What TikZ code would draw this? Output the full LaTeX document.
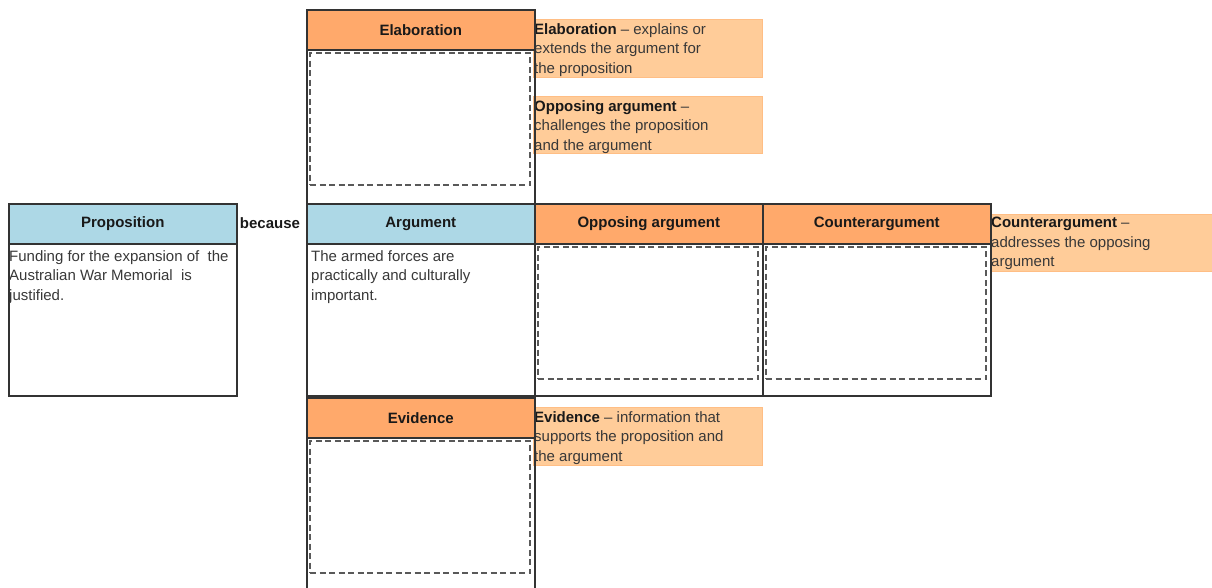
\documentclass[tikz,border=0pt]{standalone}
\usepackage{fontspec}
\setmainfont{Liberation Sans}
\usepackage{xcolor}
\definecolor{headblue}{HTML}{ADD8E6}
\definecolor{headorange}{HTML}{FFA96B}
\definecolor{notefill}{HTML}{FFCC99}
\definecolor{notedraw}{HTML}{FFBE85}

\begin{document}
\begin{tikzpicture}[x=1pt,y=-1pt]
		\tikzset{head/.style = {shape=rectangle, draw=black!80, line width=1.6pt, anchor=north west, minimum width=228pt, minimum height=40pt, inner sep=0pt, text=black!90, font=\fontsize{15}{20}\selectfont\bfseries}}
		\tikzset{cell/.style = {shape=rectangle, draw=black!80, line width=1.6pt, anchor=north west, minimum width=228pt, minimum height=152pt, inner sep=0pt}}
		\tikzset{slot/.style = {shape=rectangle, draw=black!65, line width=2pt, dash pattern=on 6pt off 3.5pt, anchor=north west, minimum width=220pt, minimum height=132pt, inner sep=0pt}}
		\tikzset{note/.style = {shape=rectangle, fill=notefill, draw=notedraw, anchor=north west, minimum width=229pt, minimum height=58pt, inner sep=0pt}}
		\tikzset{words/.style = {anchor=north west, inner sep=0pt, align=left, text=black!78, font=\fontsize{15}{19.5}\selectfont}}

		\clip (0,0) rectangle (1212,587);

		% side notes
		\node[note] (N_elab) at (533,19) {};
		\node[note, minimum height=57pt] (N_opp) at (533,96) {};
		\node[note, minimum width=224pt, minimum height=57pt] (N_count) at (990,214) {};
		\node[note] (N_evid) at (533,407) {};

		\node[words] (T_elab) at ([shift={(1,4)}]N_elab.north west) {\textbf{\color{black!90}Elaboration} -- explains or\\extends the argument for\\the proposition};
		\node[words] (T_opp) at ([shift={(1,4)}]N_opp.north west) {\textbf{\color{black!90}Opposing argument} --\\challenges the proposition\\and the argument};
		\node[words] (T_count) at ([shift={(1,3)}]N_count.north west) {\textbf{\color{black!90}Counterargument} --\\addresses the opposing\\argument};
		\node[words] (T_evid) at ([shift={(1,4)}]N_evid.north west) {\textbf{\color{black!90}Evidence} -- information that\\supports the proposition and\\the argument};

		% boxes
		\node[head, fill=headblue] (H_prop) at (8,203) {Proposition};
		\node[cell] (B_prop) at (8,243) {};
		\node[head, fill=headorange] (H_elab) at (306,9) {Elaboration};
		\node[cell, minimum height=154pt] (B_elab) at (306,49) {};
		\node[head, fill=headblue] (H_arg) at (306,203) {Argument};
		\node[cell] (B_arg) at (306,243) {};
		\node[head, fill=headorange] (H_opp) at (534,203) {Opposing argument};
		\node[cell] (B_opp) at (534,243) {};
		\node[head, fill=headorange] (H_count) at (762,203) {Counterargument};
		\node[cell] (B_count) at (762,243) {};
		\node[head, fill=headorange] (H_evid) at (306,397) {Evidence};
		\node[cell, minimum height=160pt] (B_evid) at (306,437) {};

		\node[font=\fontsize{15}{20}\selectfont\bfseries, text=black!90] (because) at (270,223) {because};

		\node[slot] (S_elab) at ([shift={(3,3)}]B_elab.north west) {};
		\node[slot] (S_opp) at ([shift={(3,3)}]B_opp.north west) {};
		\node[slot] (S_count) at ([shift={(3,3)}]B_count.north west) {};
		\node[slot] (S_evid) at ([shift={(3,3)}]B_evid.north west) {};

		\node[words] (T_prop) at ([shift={(1,7)}]B_prop.north west) {Funding for the expansion of\ \ the\\Australian War Memorial\ \ is\\justified.};
		\node[words] (T_arg) at ([shift={(5,7)}]B_arg.north west) {The armed forces are\\practically and culturally\\important.};
	\end{tikzpicture}
\end{document}
